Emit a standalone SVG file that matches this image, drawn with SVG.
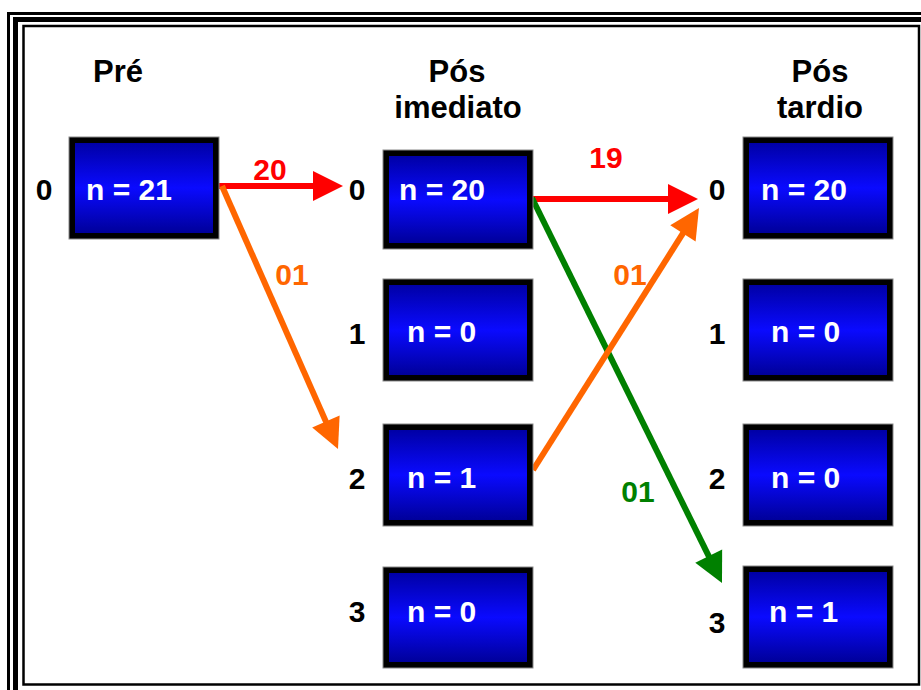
<svg xmlns="http://www.w3.org/2000/svg" width="921" height="690" viewBox="0 0 921 690">
  <style>
    .frame { fill: none; stroke: #000; }
    .box-edge { fill: #000; stroke: #8a8a8a; stroke-width: 1; }
    .box-fill { fill: url(#blueFill); }
    .val { font-family: "Liberation Sans", Arial, sans-serif; font-weight: bold; font-size: 30px; fill: #fff; }
    .row { font-family: "Liberation Sans", Arial, sans-serif; font-weight: bold; font-size: 30px; fill: #000; text-anchor: middle; }
    .head { font-family: "Liberation Sans", Arial, sans-serif; font-weight: bold; font-size: 31px; fill: #000; text-anchor: middle; }
    .lbl { font-family: "Liberation Sans", Arial, sans-serif; font-weight: bold; font-size: 30px; text-anchor: middle; }
    .arrow { fill: none; stroke-width: 6; }
  </style>
  <defs>
    <linearGradient id="blueFill" x1="0" y1="0" x2="0" y2="1">
      <stop offset="0" stop-color="#0000a6"/>
      <stop offset="0.5" stop-color="#0a0aff"/>
      <stop offset="1" stop-color="#00009a"/>
    </linearGradient>
    <marker id="headRed" markerUnits="userSpaceOnUse" markerWidth="32" markerHeight="32" refX="2" refY="15" orient="auto" overflow="visible">
      <path d="M0,0 L30,15 L0,30 z" fill="#ff0000"/>
    </marker>
    <marker id="headOrange" markerUnits="userSpaceOnUse" markerWidth="32" markerHeight="32" refX="2" refY="15" orient="auto" overflow="visible">
      <path d="M0,0 L30,15 L0,30 z" fill="#ff6600"/>
    </marker>
    <marker id="headGreen" markerUnits="userSpaceOnUse" markerWidth="32" markerHeight="32" refX="2" refY="15" orient="auto" overflow="visible">
      <path d="M0,0 L30,15 L0,30 z" fill="#008000"/>
    </marker>
  </defs>

  <rect width="921" height="690" fill="#fff"/>

  <!-- triple-line frame -->
  <g id="frame">
    <rect class="frame" x="8.5" y="13.5" width="940" height="700" stroke-width="3"/>
    <rect class="frame" x="15.5" y="19.5" width="930" height="690" stroke-width="5"/>
    <rect class="frame" x="23.5" y="26" width="895.5" height="658.5" stroke-width="2.5"/>
  </g>

  <!-- column headings -->
  <g id="headings">
    <text class="head" x="118" y="82">Pré</text>
    <text class="head" x="457" y="82">Pós</text>
    <text class="head" x="458" y="118">imediato</text>
    <text class="head" x="820" y="82">Pós</text>
    <text class="head" x="820" y="118">tardio</text>
  </g>

  <!-- row labels -->
  <g id="row-labels">
    <text class="row" x="44" y="200">0</text>
    <text class="row" x="357" y="200">0</text>
    <text class="row" x="357" y="344">1</text>
    <text class="row" x="357" y="489">2</text>
    <text class="row" x="357" y="622">3</text>
    <text class="row" x="717" y="200">0</text>
    <text class="row" x="717" y="344">1</text>
    <text class="row" x="717" y="489">2</text>
    <text class="row" x="717" y="633">3</text>
  </g>

  <!-- connectors -->
  <g id="connectors">
    <line class="arrow" x1="219" y1="186" x2="315" y2="186" stroke="#ff0000" marker-end="url(#headRed)"/>
    <line class="arrow" x1="222" y1="186" x2="326.7" y2="423.4" stroke="#ff6600" marker-end="url(#headOrange)"/>
    <line class="arrow" x1="532" y1="199" x2="670" y2="199" stroke="#ff0000" marker-end="url(#headRed)"/>
    <line class="arrow" x1="532" y1="198" x2="709.6" y2="557.9" stroke="#008000" marker-end="url(#headGreen)"/>
    <line class="arrow" x1="533" y1="470" x2="684" y2="231.7" stroke="#ff6600" marker-end="url(#headOrange)"/>
    <text class="lbl" x="270" y="180" fill="#ff0000">20</text>
    <text class="lbl" x="606" y="168" fill="#ff0000">19</text>
    <text class="lbl" x="292" y="285" fill="#ff6600">01</text>
    <text class="lbl" x="630" y="285" fill="#ff6600">01</text>
    <text class="lbl" x="638" y="502" fill="#008000">01</text>
  </g>

  <!-- Pré -->
  <g id="pre-0">
    <rect class="box-edge" x="69" y="137" width="150" height="102"/>
    <rect class="box-fill" x="75" y="143" width="138" height="90"/>
    <text class="val" x="86" y="200">n = 21</text>
  </g>

  <!-- Pós imediato -->
  <g id="imediato-0">
    <rect class="box-edge" x="383" y="150" width="150" height="99"/>
    <rect class="box-fill" x="389" y="156" width="138" height="87"/>
    <text class="val" x="399" y="200">n = 20</text>
  </g>
  <g id="imediato-1">
    <rect class="box-edge" x="383" y="279" width="150" height="102"/>
    <rect class="box-fill" x="389" y="285" width="138" height="90"/>
    <text class="val" x="407" y="342">n = 0</text>
  </g>
  <g id="imediato-2">
    <rect class="box-edge" x="383" y="424" width="150" height="102"/>
    <rect class="box-fill" x="389" y="430" width="138" height="90"/>
    <text class="val" x="407" y="488">n = 1</text>
  </g>
  <g id="imediato-3">
    <rect class="box-edge" x="383" y="567" width="150" height="101"/>
    <rect class="box-fill" x="389" y="573" width="138" height="89"/>
    <text class="val" x="407" y="622">n = 0</text>
  </g>

  <!-- Pós tardio -->
  <g id="tardio-0">
    <rect class="box-edge" x="743" y="137" width="150" height="102"/>
    <rect class="box-fill" x="749" y="143" width="138" height="90"/>
    <text class="val" x="761" y="200">n = 20</text>
  </g>
  <g id="tardio-1">
    <rect class="box-edge" x="743" y="279" width="150" height="102"/>
    <rect class="box-fill" x="749" y="285" width="138" height="90"/>
    <text class="val" x="771" y="342">n = 0</text>
  </g>
  <g id="tardio-2">
    <rect class="box-edge" x="743" y="424" width="150" height="102"/>
    <rect class="box-fill" x="749" y="430" width="138" height="90"/>
    <text class="val" x="771" y="488">n = 0</text>
  </g>
  <g id="tardio-3">
    <rect class="box-edge" x="743" y="566" width="150" height="102"/>
    <rect class="box-fill" x="749" y="572" width="138" height="90"/>
    <text class="val" x="769" y="622">n = 1</text>
  </g>
</svg>
